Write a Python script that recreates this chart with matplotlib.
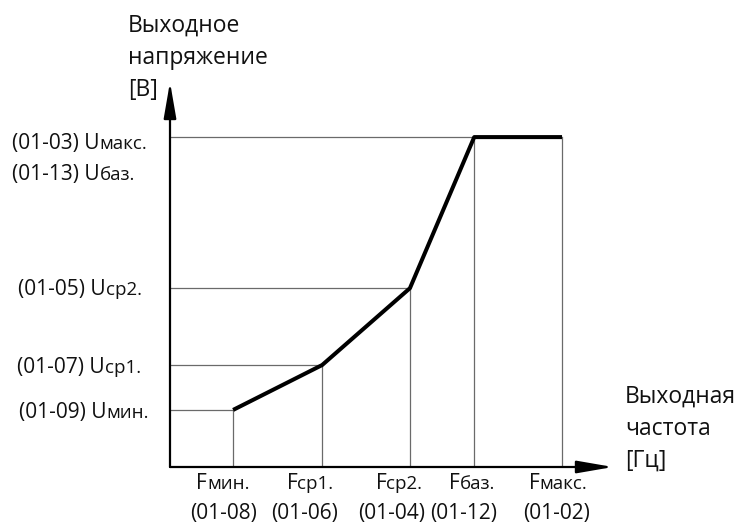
import matplotlib
matplotlib.use("Agg")
import matplotlib.pyplot as plt

plt.rcParams['font.family'] = ['Open Sans', 'DejaVu Sans']

# frequency points (% of Fmax) and voltage points (% of Umax)
freqs = [16.1, 38.8, 61.2, 77.6, 100.0]
volts = [17.3, 30.9, 54.2, 100.0, 100.0]

f_names = ['мин.', 'ср1.', 'ср2.', 'баз.', 'макс.']
f_codes = ['(01-08)', '(01-06)', '(01-04)', '(01-12)', '(01-02)']
u_names = ['макс.', 'баз.', 'ср2.', 'ср1.', 'мин.']
u_codes = ['(01-03)', '(01-13)', '(01-05)', '(01-07)', '(01-09)']

x_title = ['Выходная', 'частота', '[Гц]']
y_title = ['Выходное', 'напряжение', '[В]']

W, H = 738, 524
BIG, SMALL, TITLE = 15, 13.5, 16.5
TXT = '#111111'
GUIDE = '#6a6a6a'

fig = plt.figure(figsize=(W / 100, H / 100), dpi=100)
ax = fig.add_axes([170 / W, 57 / H, 443 / W, 385 / H])
ax.set_xlim(0, 113)
ax.set_ylim(0, 116.7)
ax.axis('off')

# guide lines to the axes
for f, u in zip(freqs[:-1], volts[:-1]):
    ax.plot([0, f], [u, u], color=GUIDE, lw=0.9)
for f, u in zip(freqs, volts):
    ax.plot([f, f], [0, u], color=GUIDE, lw=0.9)

# V/f curve
ax.plot(freqs, volts, color='black', lw=2.9, solid_capstyle='butt')

# axes with arrows
arrow = dict(arrowstyle='-|>,head_length=2.2,head_width=0.38', lw=1.6,
             color='black', mutation_scale=10, shrinkA=0, shrinkB=0)
ax.annotate('', xy=(113, 0), xytext=(0, 0), arrowprops=arrow)
ax.annotate('', xy=(0, 116.7), xytext=(0, 0), arrowprops=arrow)

renderer = fig.canvas.get_renderer()


def put(x, y, parts, center=False):
    texts = []
    for s, size in parts:
        texts.append(fig.text(0, 0, s, fontsize=size, color=TXT,
                              ha='left', va='baseline'))
    widths = [t.get_window_extent(renderer).width for t in texts]
    start = x - sum(widths) / 2 if center else x
    for t, w in zip(texts, widths):
        t.set_position((start / W, 1 - y / H))
        start += w


# voltage labels
u_pos = [(12, 149), (12, 180), (18, 295), (17, 373), (19, 418)]
for (x, y), code, name in zip(u_pos, u_codes, u_names):
    put(x, y, [(code + ' U', BIG), (name, SMALL)])

# frequency labels
top_x = [223, 310, 399, 472, 558]
bot_x = [224, 305, 392, 464, 557]
for tx, bx, code, name in zip(top_x, bot_x, f_codes, f_names):
    put(tx, 489, [('F', BIG), (name, SMALL)], center=True)
    put(bx, 519, [(code, BIG)], center=True)

# axis titles
for i, s in enumerate(y_title):
    put(128, 32 + 32 * i, [(s, TITLE)])
for i, s in enumerate(x_title):
    put(625, 403 + 32 * i, [(s, TITLE)])

fig.savefig('out.png', dpi=100)
